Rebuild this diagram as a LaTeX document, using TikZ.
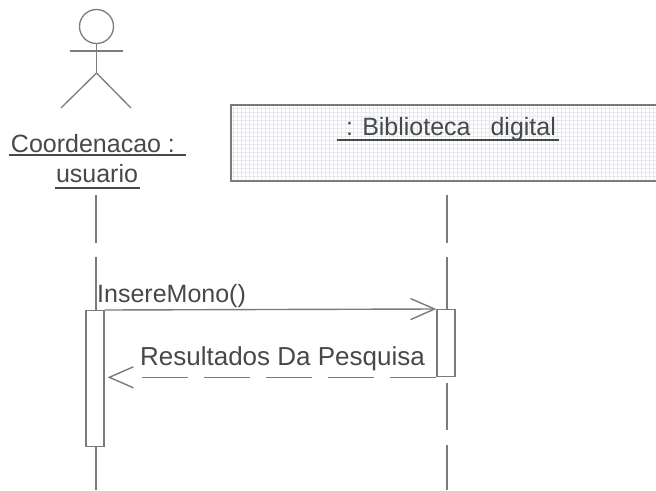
\documentclass[tikz,border=0pt]{standalone}
\usepackage{fontspec}
\setmainfont{Liberation Sans}
\usetikzlibrary{arrows.meta}
\definecolor{ink}{HTML}{45494A}
\definecolor{linec}{HTML}{777C7C}
\definecolor{gridc}{HTML}{E6E8EC}
\tikzset{
  life/.style={draw=linec,line width=1.2pt},
  actorline/.style={draw=linec,line width=1.3pt},
  activation/.style={draw=linec,line width=1.3pt,fill=white,minimum width=18pt,inner sep=0pt},
  msg/.style={draw=linec,line width=1.4pt,-{Straight Barb[length=24pt,width=21pt,line width=1.4pt]}},
  label/.style={text=ink,inner sep=0pt,font=\fontsize{25}{28}\selectfont},
  ul/.style={draw=ink,line width=1.6pt}
}
\begin{document}
\begin{tikzpicture}[x=1pt,y=-1pt]
\useasboundingbox (0,0) rectangle (656,490);
% actor
\node[circle,draw=linec,line width=1.3pt,minimum size=34pt,inner sep=0pt] (head) at (96.5,26.5) {};
\coordinate (armL) at (70,51); \coordinate (armR) at (123,51);
\coordinate (hip) at (96.5,73); \coordinate (legL) at (61,108); \coordinate (legR) at (131,108);
\draw[actorline] (head.south) -- (hip);
\draw[actorline] (armL) -- (armR);
\draw[actorline] (legL) -- (hip) -- (legR);
\node[label,anchor=base] (coord) at (93,152) {Coordenacao :};
\node[label,anchor=base] (usu) at (97,182) {usuario};
\draw[ul] (9,155) -- (186,155);
\draw[ul] (55,188) -- (140,188);
% object box
\node[minimum width=425pt,minimum height=76pt,anchor=north west,inner sep=0pt] (obj) at (231,105) {};
\begin{scope}
\clip (231,105) rectangle (656,181);
\foreach \x in {233,237,...,656} \draw[gridc,line width=.7pt] (\x,105) -- (\x,181);
\foreach \y in {108,112,...,181} \draw[gridc,line width=.7pt] (231,\y) -- (656,\y);
\end{scope}
\draw[linec,line width=1.5pt] (656,105) -- (231,105) -- (231,181) -- (656,181);
\node[label,anchor=base] (bib) at (451,135) {: Biblioteca\hspace{13pt} digital};
\draw[ul] (337,140) -- (559,140);
% lifelines
\coordinate (l1a) at (96,195); \coordinate (l1b) at (96,243);
\coordinate (l1c) at (96,257); \coordinate (l1d) at (96,310);
\coordinate (l1e) at (96,446); \coordinate (l1f) at (96,490);
\coordinate (l2a) at (447,195); \coordinate (l2b) at (447,243);
\coordinate (l2c) at (447,257); \coordinate (l2d) at (447,309);
\coordinate (l2e) at (447,383); \coordinate (l2f) at (447,430);
\coordinate (l2g) at (447,445); \coordinate (l2h) at (447,490);
\draw[life] (l1a) -- (l1b) (l1c) -- (l1d) (l1e) -- (l1f);
\draw[life] (l2a) -- (l2b) (l2c) -- (l2d) (l2e) -- (l2f) (l2g) -- (l2h);
% activations
\node[activation,minimum height=136pt,anchor=north] (actL) at (95,310) {};
\node[activation,minimum height=67pt,anchor=north] (actR) at (446,309) {};
% messages
\draw[msg] (actL.north east) -- (actR.north west);
\draw[msg,shorten >=3pt,dash pattern=on 46pt off 16pt on 46pt off 16pt on 46pt off 16pt on 46pt off 16pt on 46pt off 80pt] (actR.south west) -- (actR.south west -| actL.east);
\node[label,anchor=base west] (ins) at (97,302) {InsereMono()};
\node[label,font=\fontsize{26}{28}\selectfont,anchor=base] (res) at (282.5,365) {Resultados Da Pesquisa};
\end{tikzpicture}
\end{document}
